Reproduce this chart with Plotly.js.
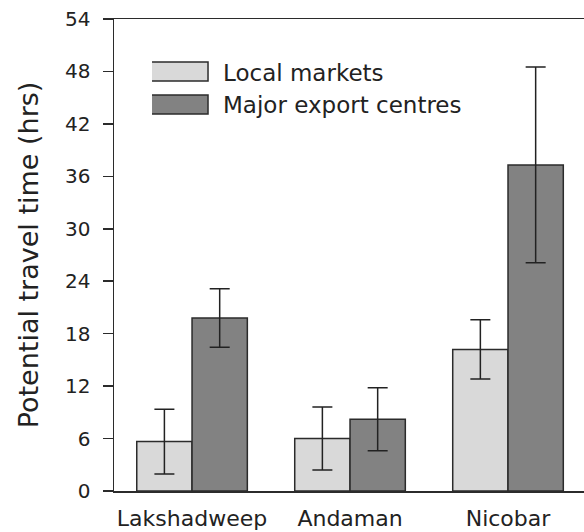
<!DOCTYPE html>
<html>
<head>
<meta charset="utf-8">
<script src="https://cdn.plot.ly/plotly-3.0.1.min.js"></script>
<style>html,body{margin:0;padding:0;background:#fff;}#chart{width:584px;height:532px;}</style>
</head>
<body>
<div id="chart"></div>
<script>
var regions = ["Lakshadweep", "Andaman", "Nicobar"];
var localMarkets = [5.65, 6.0, 16.2];
var localErr = [3.7, 3.6, 3.4];
var exportCentres = [19.8, 8.2, 37.3];
var exportErr = [3.35, 3.6, 11.2];
var yTicks = [0, 6, 12, 18, 24, 30, 36, 42, 48, 54];

var FONT = '"DejaVu Sans", "Liberation Sans", Arial, sans-serif';
var lineCol = '#2b2b2b';

var traces = [
  {
    type: 'bar', name: 'Local markets', x: regions, y: localMarkets,
    marker: {color: '#d9d9d9', line: {color: lineCol, width: 1.5}},
    error_y: {type: 'data', array: localErr, visible: true, color: '#222', thickness: 1.5, width: 10}
  },
  {
    type: 'bar', name: 'Major export centres', x: regions, y: exportCentres,
    marker: {color: '#828282', line: {color: lineCol, width: 1.5}},
    error_y: {type: 'data', array: exportErr, visible: true, color: '#222', thickness: 1.5, width: 10}
  }
];

var layout = {
  width: 584, height: 532,
  margin: {l: 114, r: 0, t: 19, b: 41, pad: 0},
  paper_bgcolor: '#fff', plot_bgcolor: '#fff',
  font: {family: FONT, color: '#222', size: 20},
  barmode: 'group', bargap: 0.30, bargroupgap: 0,
  showlegend: true,
  legend: {
    x: 0.0809, y: 0.934, xanchor: 'left', yanchor: 'top',
    bgcolor: 'rgba(0,0,0,0)', borderwidth: 0,
    font: {family: FONT, size: 23, color: '#222'},
    itemwidth: 61, traceorder: 'normal'
  },
  xaxis: {
    type: 'category', range: [-0.494, 2.481],
    showline: true, linecolor: lineCol, linewidth: 1.5, mirror: true,
    ticks: '', showgrid: false, zeroline: false,
    tickfont: {family: FONT, size: 22, color: '#222'},
    ticklabelstandoff: 7
  },
  yaxis: {
    range: [0, 54], tickvals: yTicks, ticktext: yTicks.map(String),
    showline: true, linecolor: lineCol, linewidth: 1.5,
    ticks: 'outside', ticklen: 10, tickwidth: 1.5, tickcolor: lineCol,
    showgrid: false, zeroline: false,
    tickfont: {family: FONT, size: 20, color: '#222'},
    ticklabelstandoff: 8,
    title: {text: 'Potential travel time (hrs)', font: {family: FONT, size: 27, color: '#222'}, standoff: 18}
  }
};

Plotly.newPlot('chart', traces, layout, {displayModeBar: false, staticPlot: true}).then(function () {
  var paths = document.querySelectorAll('.legend .legendpoints path');
  paths.forEach(function (p) {
    p.setAttribute('d', 'M20.5,9.5H-40.5V-9.5H20.5Z');
  });
});
</script>
</body>
</html>
